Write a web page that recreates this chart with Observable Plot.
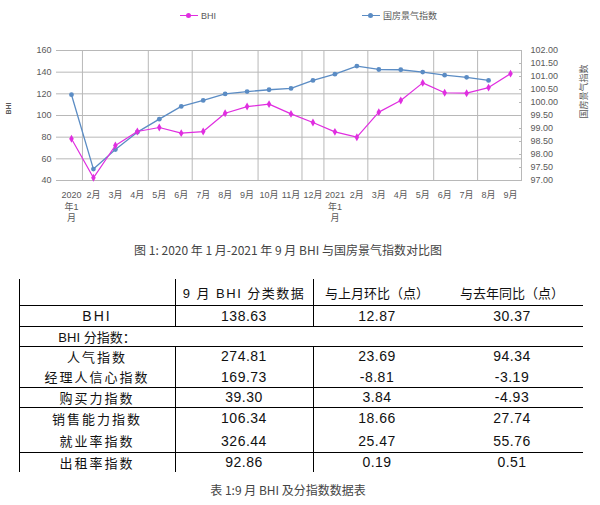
<!DOCTYPE html>
<html><head><meta charset="utf-8">
<script src="https://cdn.jsdelivr.net/npm/d3@7"></script>
<script src="https://cdn.jsdelivr.net/npm/@observablehq/plot@0.6"></script>
<style>
body{margin:0;background:#fff;width:600px;height:505px;position:relative;overflow:hidden;font-family:"Liberation Sans","Noto Sans CJK SC",sans-serif;}
#legend{position:absolute;top:0;left:0;width:600px;height:30px;font-size:9px;color:#595959;}
.item{position:absolute;top:11px;height:10px;line-height:10px;display:flex;align-items:center;white-space:nowrap;}
.sw{position:relative;width:18px;height:10px;margin-right:3px;}
.sw::before{content:"";position:absolute;left:0;right:0;top:4px;border-top:1.5px solid var(--c);}
.sw::after{content:"";position:absolute;left:6px;top:2.2px;width:5px;height:5px;background:var(--c);border-radius:50%;}
#chart{position:absolute;top:30px;left:0;}
.cap{position:absolute;left:0;width:576px;text-align:center;font-family:"Noto Sans CJK SC",sans-serif;font-size:12px;color:#444;white-space:pre;}
.cell{position:absolute;display:flex;align-items:center;justify-content:center;white-space:pre;color:#111;}
.hl{position:absolute;height:0;border-top:1px solid #000;}
.vl{position:absolute;width:0;border-left:1px solid #000;}
</style></head>
<body>
<div id="legend"></div>
<div id="chart"></div>
<div class="cap" style="top:241px">图 1: 2020 年 1 月-2021 年 9 月 BHI 与国房景气指数对比图</div>
<div id="table"></div>
<div class="cap" style="top:481px;width:576px">表 1:9 月 BHI 及分指数数据表</div>
<script>
// ---- chart data ----
const monthKeys = ["2020-01","2020-02","2020-03","2020-04","2020-05","2020-06","2020-07","2020-08","2020-09","2020-10","2020-11","2020-12","2021-01","2021-02","2021-03","2021-04","2021-05","2021-06","2021-07","2021-08","2021-09"];
const months = ["2020年1月","2月","3月","4月","5月","6月","7月","8月","9月","10月","11月","12月","2021年1月","2月","3月","4月","5月","6月","7月","8月","9月"];
const bhi = [78.5, 42.5, 72.3, 85.2, 88.9, 83.7, 85.2, 102.1, 108.26, 110.5, 101.5, 93.5, 84.9, 80.0, 103.1, 113.8, 130.1, 121.0, 120.6, 125.76, 138.63];
const guofang = [100.30, 97.44, 98.19, 98.86, 99.36, 99.85, 100.08, 100.33, 100.42, 100.49, 100.54, 100.85, 101.09, 101.40, 101.27, 101.26, 101.17, 101.05, 100.97, 100.85, null];
const leftTicks = [40, 60, 80, 100, 120, 140, 160];
const rightTicks = [97.0, 97.5, 98.0, 98.5, 99.0, 99.5, 100.0, 100.5, 101.0, 101.5, 102.0];
const gridAfter = ["2020-01","2020-04","2020-06","2020-09","2020-11","2020-12","2021-02","2021-05","2021-07"];
const seriesNames = ["BHI", "国房景气指数"];

// ---- table data ----
const tableHeader = ["", "9 月 BHI 分类数据", "与上月环比（点）", "与去年同比（点）"];
const rowLabels = ["BHI", "BHI 分指数：", "人气指数", "经理人信心指数", "购买力指数", "销售能力指数", "就业率指数", "出租率指数"];
const sepValues = ["138.63", null, "274.81", "169.73", "39.30", "106.34", "326.44", "92.86"];
const momChange = ["12.87", null, "23.69", "-8.81", "3.84", "18.66", "25.47", "0.19"];
const yoyChange = ["30.37", null, "94.34", "-3.19", "-4.93", "27.74", "55.76", "0.51"];

const MAG = "#e02ee0", BLUE = "#5b8cc4", GRID = "#b8b8b8";
const lmin = leftTicks[0], lmax = leftTicks[leftTicks.length-1];
const rmin = rightTicks[0], rmax = rightTicks[rightTicks.length-1];
const toLeft = v => lmin + (v - rmin) * (lmax - lmin) / (rmax - rmin);
const fromLeft = y => rmin + (y - lmin) * (rmax - rmin) / (lmax - lmin);
const wrap = m => m.length > 4 ? m.slice(0,4) + "\n" + m.slice(4,6) + "\n" + m.slice(6) : m;

const data = months.map((m, i) => ({i, m, bhi: bhi[i], gf: guofang[i]}));
const gfData = data.filter(d => d.gf != null);

// legend
const legend = document.getElementById("legend");
[[seriesNames[0], MAG, 180], [seriesNames[1], BLUE, 362]].forEach(([name, c, x]) => {
  const it = document.createElement("div");
  it.className = "item"; it.style.left = x + "px";
  it.innerHTML = `<span class="sw" style="--c:${c}"></span><span>${name}</span>`;
  legend.appendChild(it);
});

const chart = Plot.plot({
  width: 600, height: 200,
  marginTop: 20, marginBottom: 50, marginLeft: 60, marginRight: 79,
  style: {fontFamily: "Liberation Sans, Noto Sans CJK SC, sans-serif", fontSize: "9px", color: "#595959", background: "transparent", overflow: "visible"},
  x: {type: "linear", domain: [-0.5, months.length - 0.5]},
  y: {domain: [lmin, lmax]},
  marks: [
    Plot.ruleY(leftTicks, {stroke: GRID, strokeWidth: 1}),
    Plot.ruleX(gridAfter.map(k => monthKeys.indexOf(k) + 0.5), {stroke: GRID, strokeWidth: 1}),
    Plot.ruleX([months.length - 0.5], {stroke: GRID, strokeWidth: 1}),
    Plot.axisX({ticks: d3.range(months.length), tickFormat: i => wrap(months[i]), tickSize: 0, tickPadding: 9, lineHeight: 1.3, label: null}),
    Plot.axisY({ticks: leftTicks, anchor: "left", tickSize: 4, tickPadding: 5, stroke: GRID, label: null}),
    Plot.axisY({ticks: rightTicks.map(toLeft), anchor: "right", tickSize: -3, tickPadding: 12, stroke: GRID, tickFormat: y => fromLeft(y).toFixed(2), label: null}),
    Plot.line(gfData, {x: "i", y: d => toLeft(d.gf), stroke: BLUE, strokeWidth: 1.3}),
    Plot.dot(gfData, {x: "i", y: d => toLeft(d.gf), fill: BLUE, r: 2.4}),
    Plot.line(data, {x: "i", y: "bhi", stroke: MAG, strokeWidth: 1.2}),
    Plot.dot(data, {x: "i", y: "bhi", fill: MAG, r: 2.4, symbol: "diamond"}),
    Plot.text([seriesNames[0]], {frameAnchor: "left", rotate: -90, textAnchor: "middle", dx: -52, dy: -7, fontWeight: "bold", fontSize: 7}),
    Plot.text([seriesNames[1]], {frameAnchor: "right", rotate: -90, textAnchor: "middle", dx: 63, dy: -24, fontSize: 9})
  ]
});
document.getElementById("chart").appendChild(chart);

// table
const tbl = document.getElementById("table");
const colX = [19, 175, 313, 441, 583];
const rowH = [26, 21, 20, 20.5, 20.5, 20, 22.5, 22.5, 20];
const tableTop = 279;
const lineAfter = new Set([0, 1, 2, 4, 5, 7]);
const mergedRow = 2;
const rows = [tableHeader].concat(rowLabels.map((l, i) => [l, sepValues[i], momChange[i], yoyChange[i]]));
let y = tableTop;
const rowTops = [];
rows.forEach((r, ri) => {
  rowTops.push(y);
  r.forEach((txt, ci) => {
    if (txt == null || txt === "") return;
    const d = document.createElement("div");
    d.className = "cell";
    d.style.left = colX[ci] + "px"; d.style.width = (colX[ci+1] - colX[ci]) + "px";
    d.style.top = y + "px"; d.style.height = rowH[ri] + "px";
    const isCJK = /[\u4e00-\u9fff]/.test(txt);
    d.style.fontFamily = isCJK ? '"Noto Sans CJK SC", sans-serif' : '"Liberation Sans", sans-serif';
    d.style.fontSize = isCJK ? "13px" : "14px";
    if (ri === 0 && ci === 1) { d.style.fontFamily = '"Liberation Sans","Noto Sans CJK SC",sans-serif'; d.style.letterSpacing = "1.5px"; }
    else if (ri === mergedRow && ci === 0) { d.style.fontFamily = '"Liberation Sans","Noto Sans CJK SC",sans-serif'; d.style.letterSpacing = "0px"; }
    else if (ci === 0) { d.style.letterSpacing = "2px"; d.style.fontFamily = '"Liberation Sans","Noto Sans CJK SC",sans-serif'; }
    else if (!isCJK) d.style.letterSpacing = "0.5px";
    d.textContent = txt;
    tbl.appendChild(d);
  });
  y += rowH[ri];
  if (lineAfter.has(ri)) {
    const h = document.createElement("div");
    h.className = "hl"; h.style.left = colX[0] + "px"; h.style.width = (colX[4] - colX[0]) + "px"; h.style.top = (y - 0.5) + "px";
    tbl.appendChild(h);
  }
});
const tableBottom = y;
// vertical lines
const addV = (x, y0, y1) => { const v = document.createElement("div"); v.className = "vl"; v.style.left = (x - 0.5) + "px"; v.style.top = y0 + "px"; v.style.height = (y1 - y0) + "px"; tbl.appendChild(v); };
addV(colX[0], tableTop, tableBottom);
[colX[1], colX[2]].forEach(x => {
  addV(x, tableTop, rowTops[mergedRow]);
  addV(x, rowTops[mergedRow + 1], tableBottom);
});
</script>
</body></html>
